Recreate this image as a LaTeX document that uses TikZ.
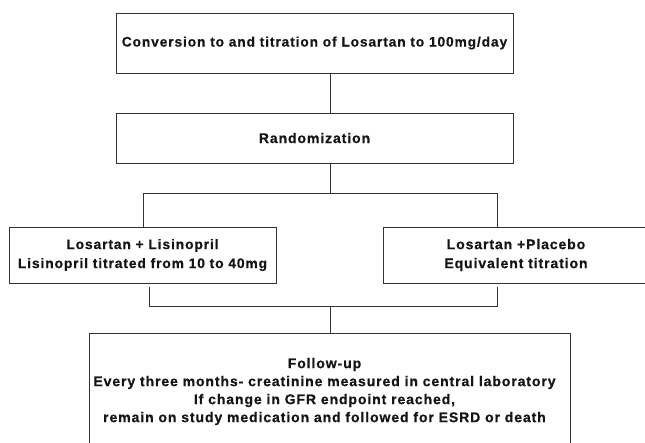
\documentclass[tikz,border=0pt]{standalone}
\usepackage{fontspec}
\setmainfont{Liberation Sans}[LetterSpace=6.5,BoldFeatures={FakeBold=0.6}]
\usetikzlibrary{calc}
\definecolor{ink}{HTML}{151515}
\definecolor{linec}{HTML}{333333}
\begin{document}
\begin{tikzpicture}[x=1pt,y=-1pt,
  box/.style={draw=linec,line width=1pt,rectangle,inner sep=0pt,align=center,
    text=ink,font=\fontsize{14}{19}\selectfont\bfseries},
  txt/.style={inner sep=0pt,align=center,text=ink,font=\fontsize{14}{18}\selectfont\bfseries},
  conn/.style={draw=linec,line width=1pt}]
\useasboundingbox (0,0) rectangle (645,442);
\clip (0,0) rectangle (645,442);
\node[box,minimum width=397pt,minimum height=60pt,font=\fontsize{13.75}{19}\selectfont\bfseries] (top) at (314.5,43) {Conversion to and titration of Losartan to 100mg/day};
\node[box,minimum width=397pt,minimum height=50pt] (rand) at (314.5,138) {Randomization};
\node[box,minimum width=267pt,minimum height=56pt,font=\fontsize{13.8}{19}\selectfont\bfseries] (left) at (142.5,255) {Losartan + Lisinopril\\Lisinopril titrated from 10 to 40mg};
\node[box,minimum width=266pt,minimum height=56pt] (right) at (516,255) {Losartan +Placebo\\Equivalent titration};
\node[box,minimum width=481pt,minimum height=117pt] (follow) at (329.5,391.5) {};
\node[txt] (followtext) at ($(follow.center)+(-5,0)$) {Follow-up\\Every three months- creatinine measured in central laboratory\\If change in GFR endpoint reached,\\remain on study medication and followed for ESRD or death};
\coordinate (cx) at (330,0);
\coordinate (split) at (330,193);
\coordinate (sl) at (143,193);
\coordinate (sr) at (497,193);
\coordinate (jl) at (149,306);
\coordinate (jr) at (497,306);
\coordinate (jc) at (330,306);
\draw[conn] (top.south -| cx) -- (rand.north -| cx);
\draw[conn] (rand.south -| cx) -- (split);
\draw[conn] (left.north -| sl) -- (sl) -- (sr) -- (right.north -| sr);
\draw[conn] ($(left.south -| jl)+(0,3)$) -- (jl) -- (jr) -- ($(right.south -| jr)+(0,3)$);
\draw[conn] (jc) -- (follow.north -| jc);
\end{tikzpicture}
\end{document}
